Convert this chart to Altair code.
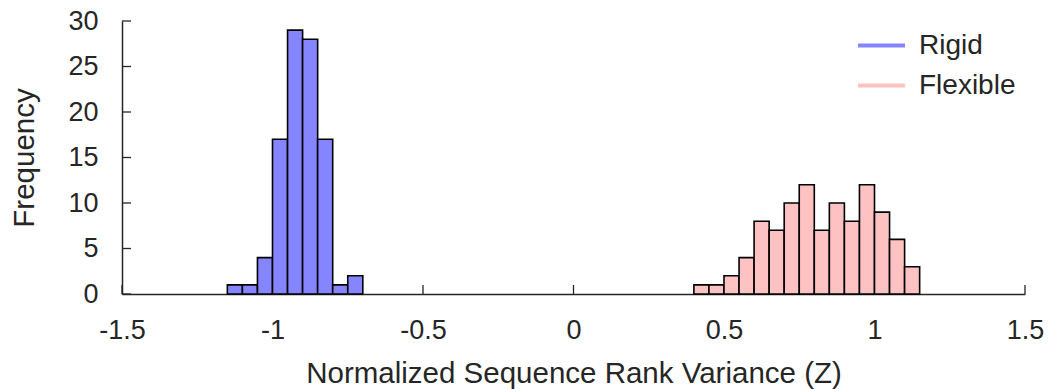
import altair as alt
import pandas as pd

# Histogram bins (width 0.05) and counts for each group
rigid_edges = [-1.15, -1.10, -1.05, -1.00, -0.95, -0.90, -0.85, -0.80, -0.75]
rigid_counts = [1, 1, 4, 17, 29, 28, 17, 1, 2]

flex_edges = [0.40, 0.45, 0.50, 0.55, 0.60, 0.65, 0.70, 0.75, 0.80,
              0.85, 0.90, 0.95, 1.00, 1.05, 1.10]
flex_counts = [1, 1, 2, 4, 8, 7, 10, 12, 7, 10, 8, 12, 9, 6, 3]

bin_width = 0.05
x_ticks = [-1.5, -1.0, -0.5, 0.0, 0.5, 1.0, 1.5]
y_ticks = [0, 5, 10, 15, 20, 25, 30]

series = ["Rigid", "Flexible"]
fills = ["#8585ff", "#ffc2c2"]

rows = []
for name, edges, counts in [("Rigid", rigid_edges, rigid_counts),
                            ("Flexible", flex_edges, flex_counts)]:
    for e, c in zip(edges, counts):
        rows.append({"series": name, "start": e, "end": round(e + bin_width, 2), "count": c})
hist = pd.DataFrame(rows)

W, H = 903, 273
FONT = "Liberation Sans"
INK = "#262626"

x_scale = alt.Scale(domain=[-1.5, 1.5], nice=False, zero=False)
y_scale = alt.Scale(domain=[0, 30], nice=False)
color_scale = alt.Scale(domain=series, range=fills)

bars = alt.Chart(hist).mark_bar(
    stroke="black", strokeWidth=1.6, binSpacing=0
).encode(
    x=alt.X("start:Q", scale=x_scale,
            axis=alt.Axis(values=x_ticks, ticks=False, labelPadding=23,
                          labelFlush=False, labelOverlap=False,
                          labelFontSize=27, titleFontSize=29.5, titlePadding=16,
                          title="Normalized Sequence Rank Variance (Z)",
                          labelExpr="replace(datum.value == 0 ? '0' : format(datum.value, '.1~f'), '\u2212', '-')",
                          grid=False)),
    x2="end:Q",
    y=alt.Y("count:Q", scale=y_scale,
            axis=alt.Axis(values=y_ticks, ticks=False, labelPadding=24,
                          labelFlush=False, labelOverlap=False,
                          labelFontSize=27, titleFontSize=29.5, titlePadding=28,
                          title="Frequency", grid=False)),
    y2=alt.datum(0),
    fill=alt.Fill("series:N", scale=color_scale, legend=None),
)

# Zero-length rules that only carry the line-style legend
legend_src = alt.Chart(pd.DataFrame({"series": series})).mark_rule(strokeWidth=0).encode(
    x=alt.value(0), x2=alt.value(0), y=alt.value(0),
    stroke=alt.Stroke(
        "series:N", scale=color_scale, sort=series,
        legend=alt.Legend(
            title=None, orient="none", legendX=734, legendY=-1,
            symbolType="stroke", symbolSize=2209, symbolStrokeWidth=4,
            labelFontSize=28, labelOffset=12, rowPadding=-5, padding=0,
        ),
    ),
)

# Inward-pointing tick marks
xt = alt.Chart(pd.DataFrame({"v": x_ticks})).mark_rule(color=INK, strokeWidth=1.3).encode(
    x=alt.X("v:Q", scale=x_scale), y=alt.value(H), y2=alt.value(H - 9)
)
yt = alt.Chart(pd.DataFrame({"v": y_ticks})).mark_rule(color=INK, strokeWidth=1.3).encode(
    y=alt.Y("v:Q", scale=y_scale), x=alt.value(0), x2=alt.value(9)
)

chart = alt.layer(xt, yt, bars, legend_src).resolve_scale(
    fill="independent", stroke="independent"
).properties(
    width=W, height=H,
    autosize=alt.AutoSizeParams(type="none"),
    padding={"left": 122, "top": 21, "right": 23, "bottom": 95},
).configure_view(stroke=None).configure_axis(
    domainColor=INK, domainWidth=1.5, labelColor=INK, titleColor=INK,
    labelFont=FONT, titleFont=FONT, titleFontWeight="normal",
).configure_legend(labelFont=FONT, labelColor=INK)

chart.save("out.html", embed_options={"renderer": "svg", "actions": False})
